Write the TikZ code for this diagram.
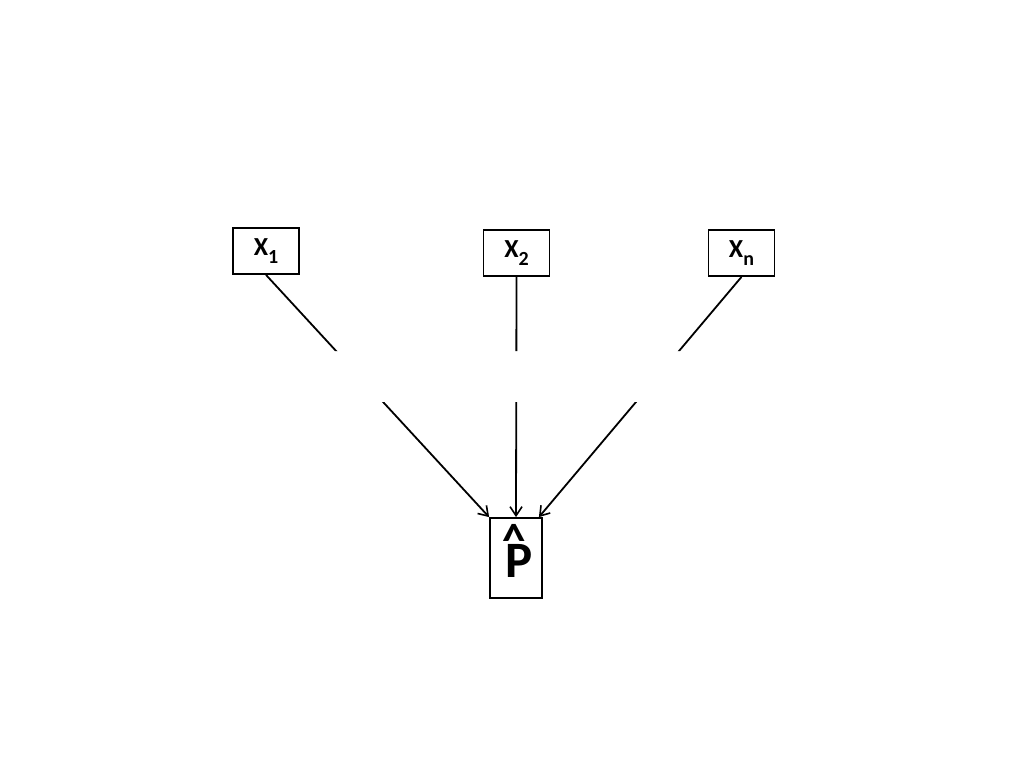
\documentclass[tikz,border=0pt]{standalone}
\usepackage{fontspec}
\setmainfont{Carlito}
\usetikzlibrary{arrows.meta}
\newcommand{\subidx}[1]{\raisebox{-8pt}{\fontsize{20}{20}\selectfont #1}}
\newcommand{\hatover}{\makebox[0pt][l]{\hspace{-3pt}\raisebox{21pt}{\fontsize{47}{47}\selectfont\textasciicircum}}}
\tikzset{
  varbox/.style={draw, line width=1.8pt, minimum width=66pt, minimum height=46pt, inner sep=0pt,
                 font=\fontsize{26}{28}\selectfont\bfseries},
  outbox/.style={draw, line width=1.8pt, minimum width=52pt, minimum height=80pt, inner sep=0pt},
  conn/.style={line width=1.8pt, -{Straight Barb[length=9pt,width=12pt,line width=1.6pt]}}
}
\begin{document}
\begin{tikzpicture}[x=1pt,y=-1pt]
\useasboundingbox (0,0) rectangle (1024,768);
\node[varbox] (X1) at (266,251) {X\subidx{1}};
\node[varbox] (X2) at (516.5,253) {X\subidx{2}};
\node[varbox] (Xn) at (741.5,253) {X\subidx{n}};
\node[outbox] (P) at (516,558) {};
\node[font=\fontsize{51}{54}\selectfont\bfseries, anchor=base, inner sep=0pt] (Plab) at (519,577) {\hatover P};
\begin{scope}
  \clip (0,0) rectangle (1024,351) (0,402) rectangle (1024,768);
  \draw[conn] (X1.south) -- (P.north west);
  \draw[conn] (X2.south) -- (P.north);
  \draw[conn] (Xn.south) -- ([xshift=-4pt]P.north east);
\end{scope}
\end{tikzpicture}
\end{document}
